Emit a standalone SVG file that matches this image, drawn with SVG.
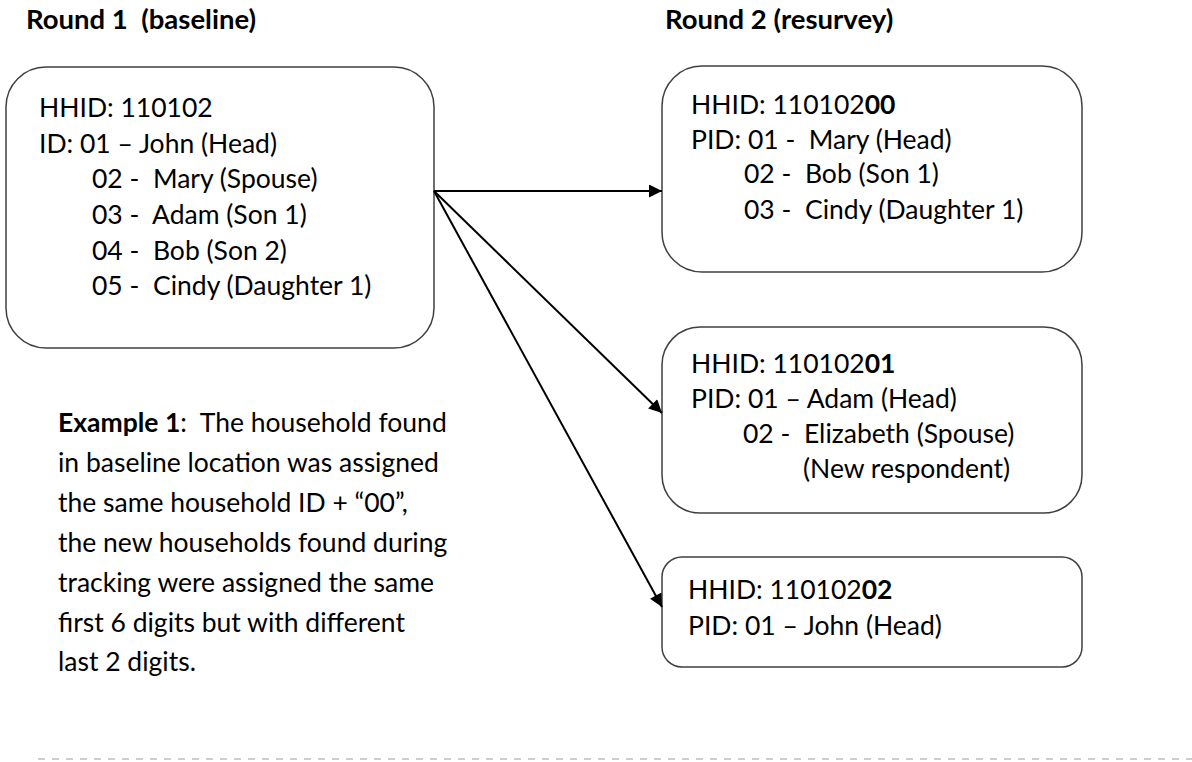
<svg xmlns="http://www.w3.org/2000/svg" width="1192" height="762" viewBox="0 0 1192 762">
<defs>
<style>
text{font-family:Lato,"Open Sans","Liberation Sans",sans-serif;font-size:26.5px;fill:#000;white-space:pre}
.b{font-weight:bold}
.t{font-weight:bold;font-size:27.5px}
.box{fill:#fff;stroke:#404040;stroke-width:1.5}
.con{stroke:#000;stroke-width:2;fill:none}
</style>
<marker id="ah" viewBox="0 0 10 10" refX="10" refY="5" markerWidth="7.5" markerHeight="6.5" markerUnits="strokeWidth" orient="auto">
<path d="M0,0 L10,5 L0,10 z" fill="#000"/>
</marker>
</defs>
<rect width="1192" height="762" fill="#fff"/>
<text class="t" x="26" y="29">Round 1  (baseline)</text>
<text class="t" x="665" y="29">Round 2 (resurvey)</text>
<g id="n_round1">
<rect class="box" x="6" y="67" width="428" height="281" rx="40" ry="40"/>
<text x="39" y="117">HHID: 110102</text>
<text x="39" y="153">ID: 01 – John (Head)</text>
<text x="92" y="188">02 -  Mary (Spouse)</text>
<text x="92" y="224">03 -  Adam (Son 1)</text>
<text x="92" y="260">04 -  Bob (Son 2)</text>
<text x="92" y="295">05 -  Cindy (Daughter 1)</text>
</g>
<g id="n_hh00">
<rect class="box" x="662" y="66" width="420" height="206" rx="40" ry="40"/>
<text x="691" y="114">HHID: 110102<tspan class="b">00</tspan></text>
<text x="691" y="149">PID: 01 -  Mary (Head)</text>
<text x="744" y="183">02 -  Bob (Son 1)</text>
<text x="744" y="219">03 -  Cindy (Daughter 1)</text>
</g>
<g id="n_hh01">
<rect class="box" x="662" y="327" width="420" height="186" rx="38" ry="38"/>
<text x="691" y="373">HHID: 110102<tspan class="b">01</tspan></text>
<text x="691" y="408">PID: 01 – Adam (Head)</text>
<text x="743" y="443">02 -  Elizabeth (Spouse)</text>
<text x="803" y="478">(New respondent)</text>
</g>
<g id="n_hh02">
<rect class="box" x="662" y="557" width="420" height="110" rx="20" ry="20"/>
<text x="688" y="599">HHID: 110102<tspan class="b">02</tspan></text>
<text x="688" y="635">PID: 01 – John (Head)</text>
</g>
<g id="n_note">
<text x="58" y="432"><tspan class="b">Example 1</tspan>:  The household found</text>
<text x="58" y="472">in baseline location was assigned</text>
<text x="58" y="512">the same household ID + “00”,</text>
<text x="58" y="552">the new households found during</text>
<text x="58" y="592">tracking were assigned the same</text>
<text x="58" y="632">first 6 digits but with different</text>
<text x="58" y="671">last 2 digits.</text>
</g>
<g id="connectors">
<line class="con" x1="434" y1="191" x2="662" y2="191" marker-end="url(#ah)"/>
<line class="con" x1="434" y1="191" x2="662" y2="413" marker-end="url(#ah)"/>
<line class="con" x1="434" y1="191" x2="662" y2="607" marker-end="url(#ah)"/>
</g>
<line x1="38" y1="759" x2="1192" y2="759" stroke="#bfbfbf" stroke-width="1.5" stroke-dasharray="7 7"/>
</svg>
